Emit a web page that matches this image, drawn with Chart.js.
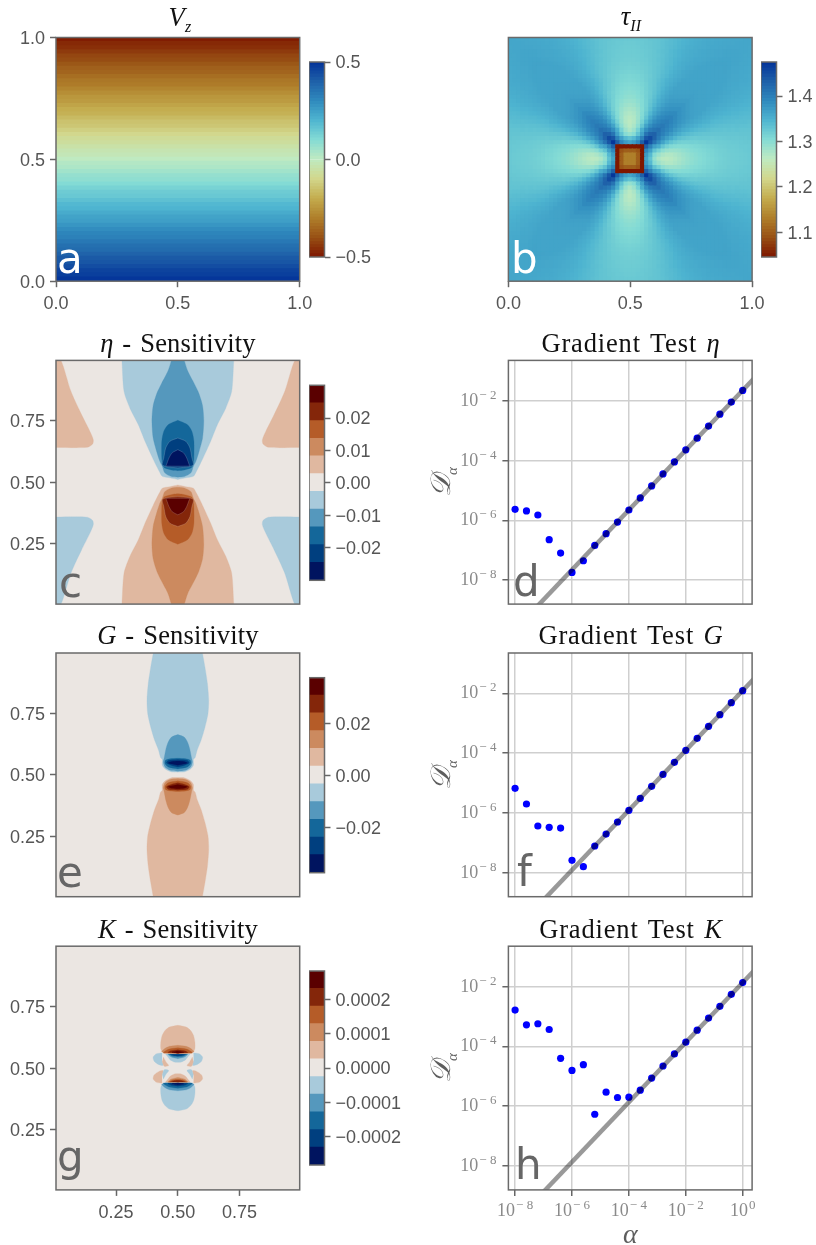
<!DOCTYPE html>
<html>
<head>
<meta charset="utf-8">
<script src="https://cdn.jsdelivr.net/npm/chart.js@4/dist/chart.umd.min.js"></script>
<style>
  html, body { margin: 0; background: #fff; }
  #wrap { position: relative; width: 816px; height: 1245px; overflow: hidden; }
  #wrap canvas { position: absolute; }
  .title { position: absolute; white-space: nowrap; transform: translateX(-50%); font: 26.5px/1 "Liberation Serif", serif; color: #111; letter-spacing: 0.2px; word-spacing: 2px; }
  .title.wide { letter-spacing: 0.85px; }
  .title sub { font-size: 16px; line-height: 0; }
  .letter { position: absolute; font: 42px/1 "DejaVu Sans", sans-serif; color: #666; }
  .axlabel { position: absolute; white-space: nowrap; font: italic 28px/1 "Liberation Serif", serif; color: #5e5e5e; }
  .axlabel sub { font-size: 15px; line-height: 0; }
  .rot { transform: translate(-50%, -50%) rotate(-90deg); }
</style>
</head>
<body>
<div id="wrap"></div>
<script>
// ---- data ----
const unitTicks = [0, 0.5, 1];
const innerTicks = [0.25, 0.5, 0.75];
const alphaTicks = [1e-8, 1e-6, 1e-4, 1e-2, 1];
const gradYTicks = [1e-8, 1e-6, 1e-4, 1e-2];
const alphas = [1e-8, 2.51e-8, 6.31e-8, 1.58e-7, 3.98e-7, 1e-6, 2.51e-6, 6.31e-6, 1.58e-5, 3.98e-5, 1e-4, 2.51e-4, 6.31e-4, 1.58e-3, 3.98e-3, 1e-2, 2.51e-2, 6.31e-2, 0.158, 0.398, 1];

const gradEta = [2.34e-6, 2.06e-6, 1.51e-6, 2.25e-7, 8.04e-8, 1.81e-8, 4.45e-8, 1.45e-7, 3.57e-7, 8.79e-7, 2.22e-6, 5.61e-6, 1.42e-5, 3.57e-5, 9.02e-5, 2.28e-4, 5.61e-4, 1.42e-3, 3.57e-3, 9.02e-3, 2.22e-2];
const gradG = [6.65e-6, 1.99e-6, 3.66e-7, 3.30e-7, 3.13e-7, 2.60e-8, 1.60e-8, 7.83e-8, 1.97e-7, 4.98e-7, 1.22e-6, 3.08e-6, 7.76e-6, 1.95e-5, 4.92e-5, 1.24e-4, 3.13e-4, 7.87e-4, 1.94e-3, 4.88e-3, 1.23e-2];
const gradK = [1.64e-3, 5.27e-4, 5.70e-4, 3.67e-4, 3.99e-5, 1.57e-5, 2.44e-5, 5.36e-7, 2.94e-6, 1.95e-6, 2.00e-6, 3.43e-6, 8.69e-6, 2.20e-5, 5.58e-5, 1.38e-4, 3.49e-4, 8.83e-4, 2.18e-3, 5.52e-3, 1.36e-2];
const lineEta = [[1e-10, 2.22e-12], [10, 0.222]];
const lineG = [[1e-10, 1.23e-12], [10, 0.123]];
const lineK = [[1e-10, 1.36e-12], [10, 0.136]];

// Vz by row, bottom row first
const vzRows = [0.49, 0.47, 0.46, 0.44, 0.42, 0.41, 0.39, 0.37, 0.36, 0.34, 0.32, 0.31, 0.29, 0.27, 0.25, 0.24, 0.22, 0.20, 0.19, 0.17, 0.15, 0.14, 0.12, 0.10, 0.08, 0.07, 0.05, 0.03, 0.02, 0.00, -0.02, -0.03, -0.05, -0.07, -0.08, -0.10, -0.12, -0.14, -0.15, -0.17, -0.19, -0.20, -0.22, -0.24, -0.25, -0.27, -0.29, -0.31, -0.32, -0.34, -0.36, -0.37, -0.39, -0.41, -0.42, -0.44, -0.46, -0.47, -0.49];

// tau_II x 1000, one wedge of the square: line = larger cell distance from centre, entry = smaller one
const tauWedge = [
  [1130],
  [1130,1130],
  [1100,1100,1090],
  [1040,1040,1040,1040],
  [1360,1370,1390,1430,1470],
  [1330,1340,1365,1395,1440,1450],
  [1290,1300,1330,1365,1410,1428,1430],
  [1272,1285,1313,1352,1385,1404,1411,1415],
  [1264,1274,1296,1327,1363,1384,1397,1402,1405],
  [1262,1269,1288,1313,1343,1368,1385,1393,1398,1400],
  [1265,1270,1285,1305,1330,1356,1373,1385,1390,1394,1395],
  [1270,1274,1286,1302,1322,1343,1361,1373,1382,1386,1388,1388],
  [1276,1279,1288,1301,1316,1334,1352,1364,1373,1378,1380,1380,1380],
  [1282,1285,1292,1302,1314,1329,1343,1356,1365,1372,1375,1375,1375,1375],
  [1288,1290,1296,1303,1314,1326,1338,1351,1359,1366,1370,1370,1370,1370,1370],
  [1293,1295,1300,1305,1315,1323,1334,1345,1355,1361,1366,1366,1366,1366,1366,1366],
  [1297,1299,1302,1307,1314,1322,1331,1341,1350,1357,1362,1364,1364,1364,1364,1364,1364],
  [1301,1302,1305,1309,1316,1323,1330,1338,1346,1354,1359,1363,1363,1363,1363,1363,1363,1363],
  [1304,1305,1307,1311,1316,1323,1328,1337,1343,1350,1355,1359,1363,1363,1363,1363,1363,1363,1363],
  [1307,1308,1310,1313,1318,1323,1328,1335,1341,1348,1352,1356,1359,1362,1362,1362,1362,1362,1362,1362],
  [1309,1310,1311,1314,1318,1322,1327,1332,1338,1343,1349,1353,1356,1359,1361,1362,1362,1362,1362,1362,1362],
  [1312,1313,1314,1316,1319,1323,1327,1331,1336,1341,1346,1351,1354,1358,1360,1361,1362,1362,1362,1362,1362,1362],
  [1314,1315,1316,1318,1320,1323,1327,1331,1335,1340,1344,1349,1352,1355,1358,1359,1361,1362,1362,1362,1362,1362,1362],
  [1316,1317,1317,1319,1321,1324,1327,1330,1334,1339,1342,1347,1351,1354,1356,1357,1359,1360,1361,1362,1362,1363,1363,1363],
  [1318,1318,1319,1321,1322,1325,1327,1331,1334,1338,1342,1346,1349,1352,1354,1356,1358,1358,1359,1360,1361,1361,1362,1362,1362],
  [1319,1319,1320,1321,1323,1325,1327,1330,1333,1337,1340,1344,1347,1351,1353,1354,1356,1357,1358,1359,1359,1360,1360,1361,1361,1361],
  [1320,1320,1321,1322,1323,1325,1327,1331,1334,1336,1341,1344,1347,1350,1352,1354,1355,1357,1358,1359,1359,1360,1360,1361,1361,1361,1361],
  [1321,1321,1322,1323,1324,1326,1328,1330,1333,1336,1339,1342,1345,1348,1351,1352,1354,1355,1356,1357,1358,1358,1359,1359,1360,1360,1360,1360],
  [1322,1322,1323,1323,1325,1326,1328,1330,1333,1336,1338,1341,1344,1347,1349,1351,1353,1354,1356,1357,1357,1358,1358,1359,1359,1359,1360,1360,1360],
  [1323,1323,1324,1324,1325,1327,1328,1330,1332,1335,1338,1340,1343,1346,1348,1350,1352,1353,1355,1356,1356,1357,1357,1358,1358,1359,1359,1359,1360,1360]
];

// contour outlines of the upper half, [y, half width about x = 0.5]
const etaLevel1 = [[0.9935,0.2265],[0.868,0.218],[0.80,0.194],[0.733,0.160],[0.666,0.133],[0.598,0.102],[0.571,0.089],[0.544,0.075],[0.524,0.063],[0.518,0.032],[0.511,0]];
const etaLevel2 = [[0.9935,0.026],[0.95,0.04],[0.90,0.066],[0.86,0.085],[0.81,0.10],[0.75,0.105],[0.679,0.10],[0.625,0.086],[0.585,0.073],[0.565,0.063],[0.538,0.053],[0.523,0.026],[0.52,0]];
const etaLevel3 = [[0.751,0],[0.733,0.039],[0.706,0.057],[0.666,0.065],[0.598,0.065],[0.571,0.062],[0.558,0.053],[0.5485,0.019],[0.547,0]];
const etaLevel4 = [[0.679,0],[0.666,0.032],[0.639,0.049],[0.598,0.057],[0.571,0.063],[0.563,0.046],[0.558,0]];
const etaLevel5 = [[0.632,0],[0.619,0.023],[0.598,0.036],[0.571,0.046],[0.566,0.0485],[0.565,0]];
// corner lobe, [x, y]
const etaLobe = [[0.0066,0.9935],[0.0268,0.9935],[0.067,0.868],[0.11,0.774],[0.144,0.706],[0.1576,0.6725],[0.155,0.655],[0.133,0.6415],[0.0066,0.641]];

const gLevel1 = [[0.9935,0.0995],[0.935,0.110],[0.868,0.12],[0.801,0.125],[0.747,0.122],[0.6935,0.11],[0.64,0.094],[0.5995,0.078],[0.57,0.07],[0.562,0.063],[0.539,0.063],[0.523,0.05],[0.512,0.0255],[0.511,0]];
const gLevel2 = [[0.663,0],[0.653,0.0255],[0.633,0.039],[0.606,0.048],[0.566,0.056],[0.5525,0.059],[0.532,0.052],[0.519,0.032],[0.515,0]];
const gLevel3 = [[0.567,0],[0.565,0.032],[0.559,0.05],[0.546,0.052],[0.532,0.039],[0.524,0]];
const gLevel4 = [[0.562,0],[0.558,0.039],[0.548,0.046],[0.538,0.025],[0.532,0]];
const gLevel5 = [[0.556,0],[0.554,0.025],[0.548,0.039],[0.543,0.019],[0.539,0]];

const kDome1 = [[0.673,0],[0.666,0.034],[0.653,0.051],[0.632,0.0635],[0.605,0.069],[0.578,0.069],[0.565,0.061],[0.562,0]];
const kDome2 = [[0.592,0],[0.588,0.034],[0.578,0.054],[0.565,0.065],[0.561,0]];
const kDome3 = [[0.582,0],[0.577,0.034],[0.569,0.051],[0.561,0.059],[0.56,0]];
const kDome4 = [[0.574,0],[0.57,0.027],[0.563,0.04],[0.56,0]];
const kDome5 = [[0.569,0],[0.564,0.024],[0.56,0]];
const kDish1 = [[0.557,0.05],[0.5446,0.04],[0.534,0.032],[0.524,0.0135],[0.523,0]];
const kDish2 = [[0.557,0.042],[0.5446,0.027],[0.538,0]];
const kDish3 = [[0.557,0.038],[0.5475,0.02],[0.546,0]];
const kDish4 = [[0.556,0.03],[0.55,0.012],[0.549,0]];
const kOuterLobe = [[0.4365,0.561],[0.4135,0.558],[0.400,0.5446],[0.404,0.528],[0.424,0.5135],[0.4406,0.511],[0.436,0.53]];
const kInnerLobe = [[0.441,0.545],[0.452,0.525],[0.463,0.51],[0.445,0.507],[0.437,0.527]];

// colour tables
const romaStops = ['#7E1700', '#995215', '#B0802B', '#C4AD4F', '#D2D78D', '#BFEAC1', '#83DBD5', '#4EB4D0', '#2F89BD', '#1E5FA8', '#023198'];
const levelColors = ['#00145f', '#003f7f', '#14679a', '#5598bd', '#a8cadb', '#ebe6e2', '#e0b8a0', '#cc8a5f', '#b55c28', '#84260a', '#5a0000'];
const bg = '#ebe6e2';
const BLUE = levelColors.slice(0, 5).reverse();   // light to dark
const RED = levelColors.slice(6);                 // light to dark

// ---- helpers ----
const SANS = 'Liberation Sans', SERIF = 'Liberation Serif';
const wrap = document.getElementById('wrap');
Chart.defaults.animation = false;
Chart.defaults.responsive = false;
Chart.defaults.plugins.legend.display = false;
Chart.defaults.plugins.tooltip.enabled = false;

Chart.register({
  id: 'frame',
  beforeDatasetsDraw(chart, args, opts) {
    if (!opts.bg) return;
    const a = chart.chartArea;
    chart.ctx.fillStyle = opts.bg;
    chart.ctx.fillRect(a.left, a.top, a.width, a.height);
  },
  afterDraw(chart) {
    const a = chart.chartArea, c = chart.ctx;
    c.save();
    c.strokeStyle = '#6a6a6a';
    c.lineWidth = 1.5;
    c.strokeRect(a.left, a.top, a.width, a.height);
    c.restore();
  }
});

function hex(c) { return [1, 3, 5].map(i => parseInt(c.substr(i, 2), 16)); }
function roma(t) {
  t = Math.max(0, Math.min(1, t)) * (romaStops.length - 1);
  const i = Math.min(Math.floor(t), romaStops.length - 2), f = t - i;
  const a = hex(romaStops[i]), b = hex(romaStops[i + 1]);
  return `rgb(${a.map((v, k) => Math.round(v + (b[k] - v) * f)).join(',')})`;
}

// canvas placed so that the chart area falls exactly on rect r
function mount(r, L, T, R, B) {
  const fx = r.x - Math.floor(r.x), fy = r.y - Math.floor(r.y);
  const w = Math.ceil(fx + r.w) + L + R, h = Math.ceil(fy + r.h) + T + B;
  const cv = document.createElement('canvas');
  cv.width = w; cv.height = h;
  cv.style.left = (Math.floor(r.x) - L) + 'px';
  cv.style.top = (Math.floor(r.y) - T) + 'px';
  wrap.appendChild(cv);
  return { ctx: cv.getContext('2d'), padding: { left: fx, top: T + fy, right: w - L - fx - r.w, bottom: h - T - fy - r.h - B } };
}

function tickAxis(axis, position, min, max, vals, fmt, show, size) {
  return {
    type: 'linear', axis, position, min, max, offset: false,
    afterFit(s) { if (axis === 'x') s.height = size; else s.width = size; },
    afterBuildTicks(s) { s.ticks = vals.map(v => ({ value: v })); },
    ticks: { display: show, callback: fmt, font: { family: SANS, size: 18 }, color: '#555', padding: axis === 'x' ? 6 : 5, labelOffset: axis === 'x' ? 0 : 1.5, autoSkip: false, maxRotation: 0, minRotation: 0 },
    grid: { offset: false, drawOnChartArea: false, drawTicks: show, tickLength: 6, tickWidth: 1.5, tickColor: '#666' },
    border: { display: false }
  };
}

const f1 = v => v.toFixed(1), f2 = v => v.toFixed(2);
const signed = d => v => (v < 0 ? '\u2212' : '') + Math.abs(v).toFixed(d);

// grid of floating bars, one dataset per row
function barGrid(grid, edges, colorOf) {
  return grid.map((row, r) => ({
    data: row.map(() => [edges[r], edges[r + 1]]),
    backgroundColor: row.map(colorOf),
    barPercentage: 1, categoryPercentage: 1, grouped: false, inflateAmount: 0.6, borderWidth: 0
  }));
}
function rowEdges(n, lo, hi) { return Array.from({ length: n + 1 }, (_, i) => lo + (hi - lo) * i / n); }

function heatPanel(r, grid, colorOf, showY) {
  const m = mount(r, 50, 24, 24, 34);
  new Chart(m.ctx, {
    type: 'bar',
    data: { labels: grid[0].map((_, i) => i), datasets: barGrid(grid, rowEdges(grid.length, 0, 1), colorOf) },
    options: {
      layout: { padding: m.padding },
      scales: {
        x: { display: false },
        y: tickAxis('y', 'left', 0, 1, unitTicks, f1, showY, 50),
        xt: tickAxis('x', 'bottom', 0, 1, unitTicks, f1, true, 34)
      }
    }
  });
}

function colorBar(r, edges, colors, vals, fmt) {
  const m = mount(r, 0, 24, 78, 24);
  m.padding.right -= 78;
  m.padding.bottom += 24;
  const grid = colors.map(c => [c]);
  new Chart(m.ctx, {
    type: 'bar',
    data: { labels: [0], datasets: barGrid(grid, edges, c => c) },
    options: {
      layout: { padding: m.padding },
      scales: {
        x: { display: false },
        y: tickAxis('y', 'right', edges[0], edges[edges.length - 1], vals, fmt, true, 78)
      }
    }
  });
}

function outline(profile, flip) {
  const at = y => flip ? 1 - y : y;
  return [...profile.map(([y, w]) => ({ x: 0.5 - w, y: at(y) })), ...[...profile].reverse().map(([y, w]) => ({ x: 0.5 + w, y: at(y) }))];
}
function patch(points, flipX, flipY) {
  return points.map(([x, y]) => ({ x: flipX ? 1 - x : x, y: flipY ? 1 - y : y }));
}

// filled contours, given bottom layer first
function contourPanel(r, layers, showX) {
  const m = mount(r, 50, 24, 24, 34);
  const lo = 0.0066, hi = 0.9934;
  new Chart(m.ctx, {
    type: 'scatter',
    data: {
      datasets: layers.map((l, i) => ({
        data: l.pts, showLine: true, fill: 'shape', backgroundColor: l.color,
        borderColor: l.edge || l.color, borderWidth: l.edge ? 0.6 : 0.3, pointRadius: 0,
        tension: 0.25, order: layers.length - i
      }))
    },
    options: {
      layout: { padding: m.padding },
      plugins: { frame: { bg } },
      scales: {
        x: tickAxis('x', 'bottom', lo, hi, innerTicks, f2, showX, 34),
        y: tickAxis('y', 'left', lo, hi, innerTicks, f2, true, 50)
      }
    }
  });
}

function gradPanel(r, values, line, showX) {
  const m = mount(r, 50, 24, 24, 34);
  const xMin = 5.82e-9, xMax = 2.14, yMin = 1.58e-9, yMax = 0.224;
  const logGrid = show => ({ color: '#cfcfcf', lineWidth: 1.5, drawTicks: show, tickLength: 6, tickWidth: 1.5, tickColor: '#666' });
  new Chart(m.ctx, {
    type: 'scatter',
    data: {
      datasets: [
        { data: line.map(([x, y]) => ({ x, y })), showLine: true, borderColor: 'rgba(0,0,0,0.4)', borderWidth: 4.5, pointRadius: 0, borderCapStyle: 'butt', order: 0 },
        { data: alphas.map((x, i) => ({ x, y: values[i] })), backgroundColor: '#0000ff', pointRadius: 3.6, borderWidth: 0, order: 1 }
      ]
    },
    options: {
      layout: { padding: m.padding },
      scales: {
        x: { type: 'logarithmic', position: 'bottom', min: xMin, max: xMax,
          afterFit(s) { s.height = 34; }, afterBuildTicks(s) { s.ticks = alphaTicks.map(v => ({ value: v })); },
          ticks: { display: false }, grid: logGrid(showX), border: { display: false } },
        y: { type: 'logarithmic', position: 'left', min: yMin, max: yMax,
          afterFit(s) { s.width = 50; }, afterBuildTicks(s) { s.ticks = gradYTicks.map(v => ({ value: v })); },
          ticks: { display: false }, grid: logGrid(true), border: { display: false } }
      }
    },
    plugins: [{
      id: 'powerLabels',
      afterDraw(chart) {
        const c = chart.ctx;
        const put = (v, px, py, align) => {
          const exp = Math.round(Math.log10(v));
          const e = exp < 0 ? '\u2212 ' + (-exp) : String(exp);
          c.save();
          c.fillStyle = '#8a8a8a';
          c.textAlign = 'left'; c.textBaseline = 'alphabetic';
          c.font = `18px "${SERIF}"`;
          const wb = c.measureText('10').width;
          c.font = `13px "${SERIF}"`;
          const we = c.measureText(e).width;
          const x0 = align === 'right' ? px - wb - we - 1 : px - (wb + we + 1) / 2;
          c.font = `18px "${SERIF}"`;
          c.fillText('10', x0, py);
          c.font = `13px "${SERIF}"`;
          c.fillText(e, x0 + wb + 1, py - 7);
          c.restore();
        };
        gradYTicks.forEach(v => put(v, chart.chartArea.left - 12, chart.scales.y.getPixelForValue(v) + 5, 'right'));
        if (showX) alphaTicks.forEach(v => put(v, chart.scales.x.getPixelForValue(v), chart.chartArea.bottom + 26, 'center'));
      }
    }]
  });
}

function addText(cls, html, x, y) {
  const d = document.createElement('div');
  d.className = cls; d.innerHTML = html;
  d.style.left = x + 'px'; d.style.top = y + 'px';
  wrap.appendChild(d);
}

// ---- panels ----
const leftX = 56, rightX = 508.4, W = 243.7, H = 243.7;
const rowY = [37.5, 360.4, 653, 946.2];
const cbY = [62, 385.3, 677.7, 971];

// a: Vz
heatPanel({ x: leftX, y: rowY[0], w: W, h: H }, vzRows.map(v => [v]), v => roma(v + 0.5), true);
const contN = 64;
const contT = Array.from({ length: contN }, (_, i) => roma((i + 0.5) / contN));
colorBar({ x: 309, y: cbY[0], w: 15.5, h: 195 }, rowEdges(contN, -0.5, 0.5), contT, [-0.5, 0, 0.5], signed(1));

// b: tauII
const tauRows = [];
for (let j = -29; j <= 29; j++) {
  const row = [];
  for (let i = -29; i <= 29; i++) {
    const a = Math.abs(i), b = Math.abs(j);
    row.push(tauWedge[Math.max(a, b)][Math.min(a, b)]);
  }
  tauRows.push(row);
}
heatPanel({ x: rightX, y: rowY[0], w: W, h: H }, tauRows, v => roma((v / 1000 - 1.045) / 0.43), false);
colorBar({ x: 761, y: cbY[0], w: 15.5, h: 195 }, rowEdges(contN, 1.045, 1.475), contT, [1.1, 1.2, 1.3, 1.4], f1);

// c: eta sensitivity
const etaProfiles = [etaLevel1, etaLevel2, etaLevel3, etaLevel4, etaLevel5];
contourPanel({ x: leftX, y: rowY[1], w: W, h: H }, [
  { pts: patch(etaLobe, false, false), color: RED[0] },
  { pts: patch(etaLobe, true, false), color: RED[0] },
  { pts: patch(etaLobe, false, true), color: BLUE[0] },
  { pts: patch(etaLobe, true, true), color: BLUE[0] },
  ...etaProfiles.map((p, i) => ({ pts: outline(p, false), color: BLUE[i], edge: i > 2 ? 'rgba(200,210,225,0.35)' : null })),
  ...etaProfiles.map((p, i) => ({ pts: outline(p, true), color: RED[i], edge: i > 2 ? 'rgba(225,205,200,0.35)' : null }))
], false);
colorBar({ x: 309, y: cbY[1], w: 15.5, h: 195 }, rowEdges(11, -0.0301, 0.0301), levelColors, [-0.02, -0.01, 0, 0.01, 0.02], signed(2));

// e: G sensitivity
const gProfiles = [gLevel1, gLevel2, gLevel3, gLevel4, gLevel5];
contourPanel({ x: leftX, y: rowY[2], w: W, h: H }, [
  ...gProfiles.map((p, i) => ({ pts: outline(p, false), color: BLUE[i] })),
  ...gProfiles.map((p, i) => ({ pts: outline(p, true), color: RED[i] }))
], false);
colorBar({ x: 309, y: cbY[2], w: 15.5, h: 195 }, rowEdges(11, -0.0374, 0.0374), levelColors, [-0.02, 0, 0.02], signed(2));

// g: K sensitivity
const kDomes = [kDome1, kDome2, kDome3, kDome4, kDome5];
const kDishes = [kDish1, kDish2, kDish3, kDish4];
contourPanel({ x: leftX, y: rowY[3], w: W, h: H }, [
  ...kDomes.map((p, i) => ({ pts: outline(p, false), color: RED[i] })),
  ...kDomes.map((p, i) => ({ pts: outline(p, true), color: BLUE[i] })),
  ...kDishes.map((p, i) => ({ pts: outline(p, false), color: BLUE[i] })),
  ...kDishes.map((p, i) => ({ pts: outline(p, true), color: RED[i] })),
  { pts: patch(kOuterLobe, false, false), color: BLUE[0] },
  { pts: patch(kOuterLobe, true, false), color: BLUE[0] },
  { pts: patch(kOuterLobe, false, true), color: RED[0] },
  { pts: patch(kOuterLobe, true, true), color: RED[0] },
  { pts: patch(kInnerLobe, false, false), color: RED[0] },
  { pts: patch(kInnerLobe, true, false), color: RED[0] },
  { pts: patch(kInnerLobe, false, true), color: BLUE[0] },
  { pts: patch(kInnerLobe, true, true), color: BLUE[0] }
], true);
colorBar({ x: 309, y: cbY[3], w: 15.5, h: 194 }, rowEdges(11, -0.000285, 0.000285), levelColors, [-0.0002, -0.0001, 0, 0.0001, 0.0002], signed(4));

// d, f, h: gradient tests
gradPanel({ x: rightX, y: rowY[1], w: W, h: H }, gradEta, lineEta, false);
gradPanel({ x: rightX, y: rowY[2], w: W, h: H }, gradG, lineG, false);
gradPanel({ x: rightX, y: rowY[3], w: W, h: H }, gradK, lineK, true);

// ---- text ----
const titles = [
  ['<i>V</i><sub><i>z</i></sub>', 180, 25, ''],
  ['<i>τ</i><sub><i>II</i></sub>', 631, 24, ''],
  ['<i>η</i> - Sensitivity', 178, 351, ''],
  ['Gradient Test <i>η</i>', 631, 351, ' wide'],
  ['<i>G</i> - Sensitivity', 178, 643, ''],
  ['Gradient Test <i>G</i>', 631, 643, ' wide'],
  ['<i>K</i> - Sensitivity', 178, 937, ''],
  ['Gradient Test <i>K</i>', 631, 937, ' wide']
];
titles.forEach(([t, x, base, extra]) => addText('title' + extra, t, x, base - 21.5));

const letters = [['a', 57, 275, '#fff'], ['b', 511, 275, '#fff'], ['c', 59, 599], ['d', 513, 598], ['e', 57, 889], ['f', 517, 888], ['g', 57, 1173], ['h', 515, 1181]];
letters.forEach(([t, x, base, col]) => {
  addText('letter', t, x, base - 37);
  if (col) wrap.lastChild.style.color = col;
});

[482, 775, 1068].forEach(y => addText('axlabel rot', '𝒟<sub>α</sub>', 441, y));
addText('axlabel', 'α', 623, 1220);
</script>
</body>
</html>
